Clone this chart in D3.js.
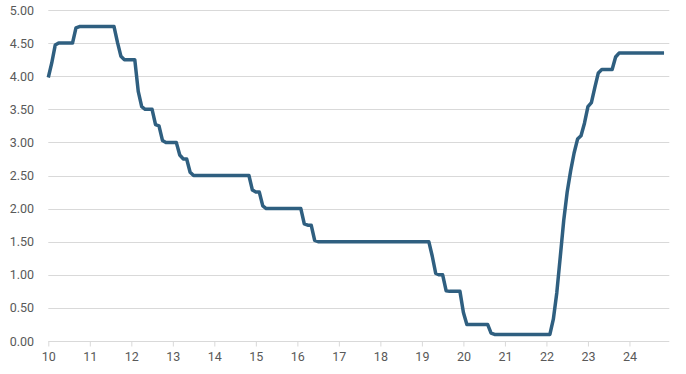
<!DOCTYPE html>
<html>
<head>
<meta charset="utf-8">
<script src="https://cdn.jsdelivr.net/npm/d3@7/dist/d3.min.js"></script>
<style>
  html, body { margin: 0; padding: 0; background: #fff; }
  svg { display: block; }
  .tick text { font-family: Roboto, "Liberation Sans", sans-serif; font-size: 12.5px; fill: #595959; }
</style>
</head>
<body>
<svg id="chart" width="686" height="374"></svg>
<script>
// Monthly values, starting March 2010 (label "10") through January 2025
const startLabel = 10;               // first point sits on the "10" label
const xTickLabels = [10, 11, 12, 13, 14, 15, 16, 17, 18, 19, 20, 21, 22, 23, 24];
const yTickValues = [0, 0.5, 1, 1.5, 2, 2.5, 3, 3.5, 4, 4.5, 5];

const values2010 = [3.98, 4.20, 4.47, 4.50, 4.50, 4.50, 4.50, 4.50, 4.73, 4.75];
const values2011 = [4.75, 4.75, 4.75, 4.75, 4.75, 4.75, 4.75, 4.75, 4.75, 4.75, 4.51, 4.30];
const values2012 = [4.25, 4.25, 4.25, 4.25, 3.77, 3.54, 3.50, 3.50, 3.50, 3.27, 3.25, 3.03];
const values2013 = [3.00, 3.00, 3.00, 3.00, 2.81, 2.75, 2.75, 2.55, 2.50, 2.50, 2.50, 2.50];
const values2014 = [2.50, 2.50, 2.50, 2.50, 2.50, 2.50, 2.50, 2.50, 2.50, 2.50, 2.50, 2.50];
const values2015 = [2.50, 2.28, 2.25, 2.25, 2.04, 2.00, 2.00, 2.00, 2.00, 2.00, 2.00, 2.00];
const values2016 = [2.00, 2.00, 2.00, 2.00, 1.77, 1.75, 1.75, 1.52, 1.50, 1.50, 1.50, 1.50];
const values2017 = [1.50, 1.50, 1.50, 1.50, 1.50, 1.50, 1.50, 1.50, 1.50, 1.50, 1.50, 1.50];
const values2018 = [1.50, 1.50, 1.50, 1.50, 1.50, 1.50, 1.50, 1.50, 1.50, 1.50, 1.50, 1.50];
const values2019 = [1.50, 1.50, 1.50, 1.50, 1.50, 1.28, 1.02, 1.00, 1.00, 0.76, 0.75, 0.75];
const values2020 = [0.75, 0.75, 0.43, 0.25, 0.25, 0.25, 0.25, 0.25, 0.25, 0.25, 0.12, 0.10];
const values2021 = [0.10, 0.10, 0.10, 0.10, 0.10, 0.10, 0.10, 0.10, 0.10, 0.10, 0.10, 0.10];
const values2022 = [0.10, 0.10, 0.10, 0.10, 0.33, 0.73, 1.27, 1.82, 2.25, 2.57, 2.84, 3.05];
const values2023 = [3.10, 3.29, 3.54, 3.60, 3.83, 4.05, 4.10, 4.10, 4.10, 4.10, 4.29, 4.35];
const values2024 = [4.35, 4.35, 4.35, 4.35, 4.35, 4.35, 4.35, 4.35, 4.35, 4.35, 4.35, 4.35];
const values2025 = [4.35];

const values = [].concat(values2010, values2011, values2012, values2013, values2014,
  values2015, values2016, values2017, values2018, values2019, values2020,
  values2021, values2022, values2023, values2024, values2025);

const data = values.map((v, i) => ({ x: startLabel + i / 12, y: v }));

const svg = d3.select("#chart");

const x = d3.scaleLinear().domain([10, 24.96]).range([48.3, 669.3]);
const y = d3.scaleLinear().domain([0, 5]).range([341, 10]);

// horizontal gridlines
svg.append("g")
  .selectAll("line")
  .data(yTickValues)
  .join("line")
  .attr("x1", x(10))
  .attr("x2", x(24.96))
  .attr("y1", d => Math.round(y(d)) + 0.5)
  .attr("y2", d => Math.round(y(d)) + 0.5)
  .attr("stroke", "#d9d9d9")
  .attr("stroke-width", 1);

// y axis labels
const yAxis = d3.axisLeft(y)
  .tickValues(yTickValues)
  .tickFormat(d3.format(".2f"))
  .tickSize(0)
  .tickPadding(0);
svg.append("g")
  .attr("transform", "translate(34,0)")
  .call(yAxis)
  .call(g => g.select(".domain").remove());

// x axis ticks and labels
const xAxis = d3.axisBottom(x)
  .tickValues(xTickLabels)
  .tickFormat(d3.format("d"))
  .tickSize(5)
  .tickPadding(6);
svg.append("g")
  .attr("transform", `translate(0,${Math.round(y(0)) + 0.5})`)
  .call(xAxis)
  .call(g => g.select(".domain").remove())
  .call(g => g.selectAll(".tick line").attr("stroke", "#d9d9d9"));

// line
const line = d3.line().x(d => x(d.x)).y(d => y(d.y));
svg.append("path")
  .datum(data)
  .attr("d", line)
  .attr("fill", "none")
  .attr("stroke", "#2f5f80")
  .attr("stroke-width", 3.5)
  .attr("stroke-linejoin", "round");
</script>
</body>
</html>
